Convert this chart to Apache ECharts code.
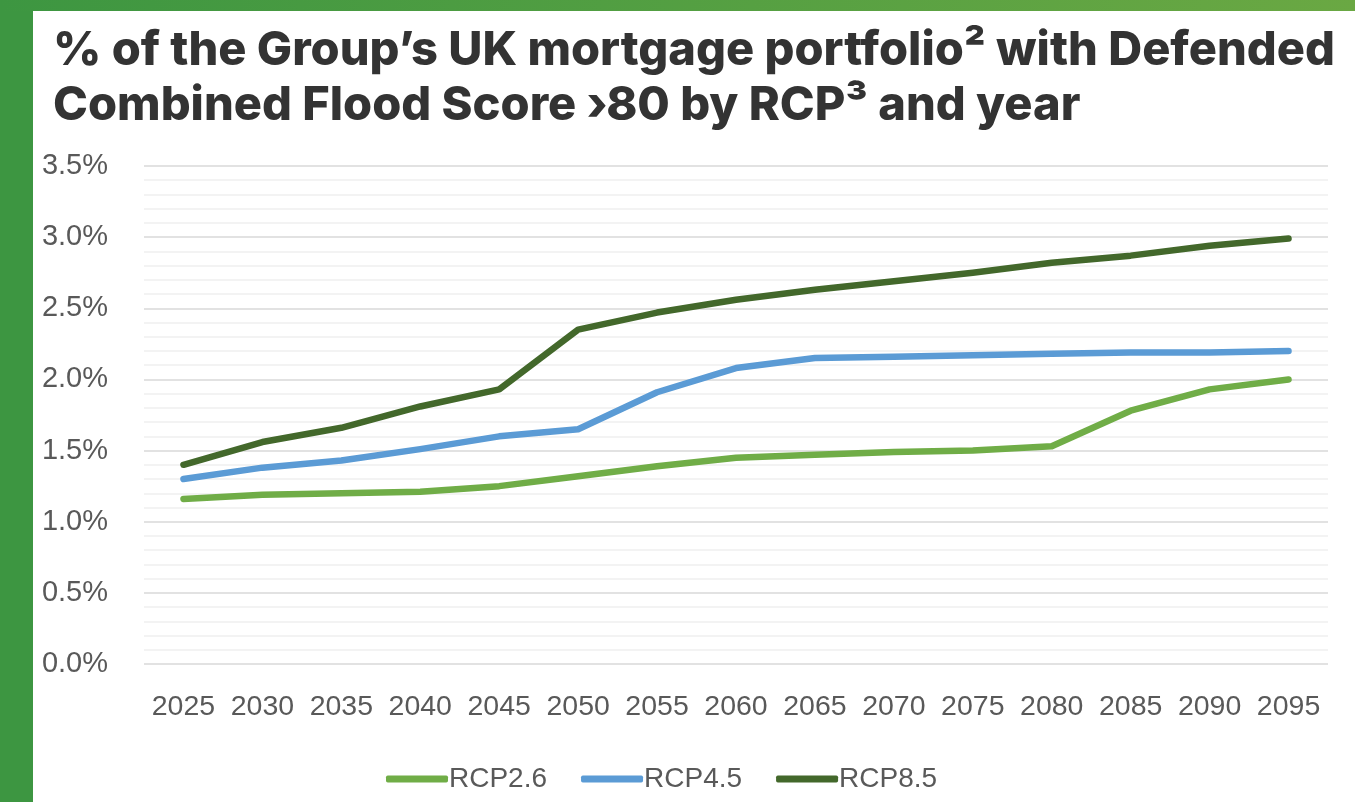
<!DOCTYPE html>
<html>
<head>
<meta charset="utf-8">
<script src="https://cdn.jsdelivr.net/npm/echarts@6/dist/echarts.min.js"></script>
<style>
html,body{margin:0;padding:0;background:#fff;}
#chart{width:1355px;height:802px;}
</style>
</head>
<body>
<div id="chart"></div>
<script>
const years = ['2025','2030','2035','2040','2045','2050','2055','2060','2065','2070','2075','2080','2085','2090','2095'];
const rcp26 = [1.16,1.19,1.20,1.21,1.25,1.32,1.39,1.45,1.47,1.49,1.50,1.53,1.78,1.93,2.00];
const rcp45 = [1.30,1.38,1.43,1.51,1.60,1.65,1.91,2.08,2.15,2.16,2.17,2.18,2.19,2.19,2.20];
const rcp85 = [1.40,1.56,1.66,1.81,1.93,2.35,2.47,2.56,2.63,2.69,2.75,2.82,2.87,2.94,2.99];
const seriesNames = ['RCP2.6','RCP4.5','RCP8.5'];
const colors = ['#70AD47','#5B9BD5','#43682B'];
const titleText = '% of the Group\u2019s UK mortgage portfolio\u00B2 with Defended\nCombined Flood Score \u203A80 by RCP\u00B3 and year';

const chart = echarts.init(document.getElementById('chart'));
const data = [rcp26, rcp45, rcp85];
const labelFont = "'Liberation Sans', Arial, sans-serif";
chart.setOption({
  animation: false,
  backgroundColor: '#ffffff',
  graphic: [
    {type:'rect', left:0, top:0, shape:{width:33, height:802}, style:{fill:'#3d9641'}, z:0},
    {type:'rect', left:0, top:0, shape:{width:1355, height:11},
     style:{fill: new echarts.graphic.LinearGradient(0,0,1,0,[{offset:0,color:'#3d9641'},{offset:1,color:'#6aa843'}])}, z:0}
  ],
  title: {
    text: titleText,
    left: 48, top: 18,
    textStyle: {fontFamily:'Inter', fontWeight:800, fontSize:47, lineHeight:55, color:'#333333'}
  },
  legend: {
    top: 760, left: 381,
    itemWidth: 62, itemHeight: 7, itemGap: 34,
    icon: 'roundRect',
    textStyle: {fontFamily:labelFont, fontSize:28, color:'#595959', padding:[0,0,0,-4]},
    data: seriesNames
  },
  grid: {left:144, right:27, top:166, bottom:138, containLabel:false},
  xAxis: {
    type:'category', data: years, boundaryGap:true,
    axisLine:{show:false}, axisTick:{show:false},
    axisLabel:{interval:0, fontFamily:labelFont, fontSize:28.5, color:'#595959', margin:29}
  },
  yAxis: {
    type:'value', min:0, max:3.5, interval:0.5,
    axisLine:{show:false}, axisTick:{show:false},
    axisLabel:{fontFamily:labelFont, fontSize:29, color:'#595959', margin:36, formatter: v => v.toFixed(1)+'%'},
    splitLine:{lineStyle:{color:'#d9d9d9', width:1.5}},
    minorTick:{show:false, splitNumber:5},
    minorSplitLine:{show:true, lineStyle:{color:'#efefef', width:1.5}}
  },
  series: data.map((d,i)=>({
    name: seriesNames[i], type:'line', data:d,
    symbol:'none', lineStyle:{width:6.5, color:colors[i], cap:'round', join:'round'},
    itemStyle:{color:colors[i]}
  }))
});
</script>
</body>
</html>
